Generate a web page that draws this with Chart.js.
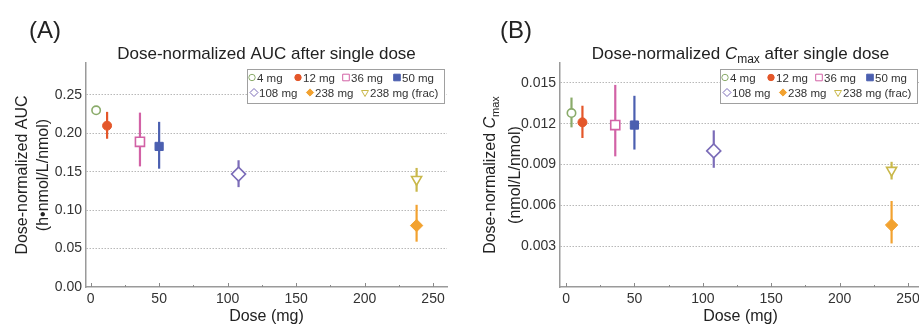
<!DOCTYPE html>
<html>
<head>
<meta charset="utf-8">
<script src="https://cdn.jsdelivr.net/npm/chart.js@4.4.1/dist/chart.umd.min.js"></script>
<style>
html,body{margin:0;padding:0;background:#fff;overflow:hidden;width:919px;height:324px;}
#wrapA{position:absolute;left:0;top:0;width:460px;height:324px;}
#wrapB{position:absolute;left:460px;top:0;width:475px;height:324px;}
canvas{display:block;}
</style>
</head>
<body>
<div id="wrapA"><canvas id="cA" width="460" height="324"></canvas></div>
<div id="wrapB"><canvas id="cB" width="475" height="324"></canvas></div>
<script>
// ---------- data ----------
const groups = ['4 mg','12 mg','36 mg','50 mg','108 mg','238 mg','238 mg (frac)'];
const doses = [4, 12, 36, 50, 108, 238, 238];

const aucMean = [0.230, 0.210, 0.189, 0.183, 0.147, 0.080, 0.140];
const aucLow  = [0.2265, 0.193, 0.157, 0.154, 0.130, 0.059, 0.124];
const aucHigh = [0.2335, 0.228, 0.227, 0.215, 0.165, 0.107, 0.155];

const cmaxMean = [0.01278, 0.0121, 0.0119, 0.0119, 0.0100, 0.00455, 0.00858];
const cmaxLow  = [0.01173, 0.01095, 0.0096, 0.0101, 0.00876, 0.0032, 0.0079];
const cmaxHigh = [0.01392, 0.01332, 0.01485, 0.01405, 0.01151, 0.00632, 0.0092];

const xTicks = [0, 50, 100, 150, 200, 250];
const xMinorTicks = [25, 75, 125, 175, 225];
const aucTicks = [0, 0.05, 0.10, 0.15, 0.20, 0.25];
const cmaxTicks = [0.003, 0.006, 0.009, 0.012, 0.015];

// ---------- styles ----------
const colors = ['#8aab6a', '#e4572a', '#d262a6', '#4b5fb0', '#7b6cb8', '#f2a230', '#c9b84a'];
const shapes = ['circle', 'circle', 'rect', 'rect', 'rectRot', 'rectRot', 'triangle'];
const filled = [false, true, false, true, false, true, false];
const radii = [4.2, 4.5, 6.4, 5.8, 7, 6.2, 5.8];
const rotations = [0, 0, 0, 0, 0, 0, 180];

const FONT = "'Liberation Sans', Arial, Helvetica, sans-serif";
Chart.defaults.font.family = FONT;
const TEXT = '#222';

function drawRuns(ctx, runs, cx, by) {
  let total = 0;
  runs.forEach(r => { ctx.font = r.f + ' ' + FONT; r.w = ctx.measureText(r.t).width; total += r.w; });
  let x = cx - total / 2;
  ctx.textAlign = 'left';
  ctx.textBaseline = 'alphabetic';
  runs.forEach(r => { ctx.font = r.f + ' ' + FONT; ctx.fillText(r.t, x, by + (r.dy || 0)); x += r.w; });
}

function legendMarker(ctx, i, x, y) {
  ctx.save();
  ctx.lineWidth = 1;
  ctx.strokeStyle = colors[i];
  ctx.fillStyle = filled[i] ? colors[i] : '#fff';
  ctx.beginPath();
  const s = shapes[i];
  if (s === 'circle') {
    ctx.arc(x, y, 3.2, 0, Math.PI * 2);
  } else if (s === 'rect') {
    ctx.rect(x - 3.3, y - 3.3, 6.6, 6.6);
  } else if (s === 'rectRot') {
    const r = filled[i] ? 3.6 : 4;
    ctx.moveTo(x, y - r); ctx.lineTo(x + r, y); ctx.lineTo(x, y + r); ctx.lineTo(x - r, y);
    ctx.closePath();
  } else {
    const r = 4;
    ctx.moveTo(x - r * 0.866, y - r * 0.5); ctx.lineTo(x + r * 0.866, y - r * 0.5); ctx.lineTo(x, y + r);
    ctx.closePath();
  }
  ctx.fill();
  ctx.stroke();
  ctx.restore();
}

function makeDeco(cfg) {
  return {
    id: 'deco',
    afterDraw(chart) {
      const ctx = chart.ctx;
      const ca = chart.chartArea;
      const xs = chart.scales.x;
      ctx.save();
      ctx.fillStyle = TEXT;
      // panel label
      ctx.font = '24px ' + FONT;
      ctx.textAlign = 'left';
      ctx.textBaseline = 'alphabetic';
      ctx.fillText(cfg.panel, cfg.panelX, 38);
      // title
      drawRuns(ctx, cfg.title, (ca.left + ca.right) / 2, 59);
      // x title
      drawRuns(ctx, [{t: 'Dose (mg)', f: '16px'}], (ca.left + ca.right) / 2, 321);
      // y title
      cfg.ytitle.forEach((line, k) => {
        ctx.save();
        ctx.translate(cfg.yBase[k], (ca.top + ca.bottom) / 2);
        ctx.rotate(-Math.PI / 2);
        drawRuns(ctx, line, 0, 0);
        ctx.restore();
      });
      // inward x ticks
      ctx.strokeStyle = '#8a8a8a';
      ctx.lineWidth = 1;
      xTicks.forEach(v => {
        const px = Math.round(xs.getPixelForValue(v)) + 0.5;
        ctx.beginPath(); ctx.moveTo(px, ca.bottom); ctx.lineTo(px, ca.bottom - 4); ctx.stroke();
      });
      xMinorTicks.forEach(v => {
        const px = Math.round(xs.getPixelForValue(v)) + 0.5;
        ctx.beginPath(); ctx.moveTo(px, ca.bottom); ctx.lineTo(px, ca.bottom - 2); ctx.stroke();
      });
      // legend
      const w = 197, h = 34, top = 69;
      const left = Math.round(ca.right - cfg.legInset - w);
      ctx.fillStyle = '#fff';
      ctx.fillRect(left, top, w, h);
      ctx.strokeStyle = '#a0a0a0';
      ctx.strokeRect(left + 0.5, top + 0.5, w, h);
      const rows = [
        {y: 77.5, idx: [0, 1, 2, 3], off: [5, 51, 99, 150]},
        {y: 92.5, idx: [4, 5, 6], off: [7, 63, 118]}
      ];
      ctx.font = '11.5px ' + FONT;
      ctx.textAlign = 'left';
      ctx.textBaseline = 'alphabetic';
      rows.forEach(row => {
        row.idx.forEach((i, k) => {
          const mx = left + row.off[k];
          legendMarker(ctx, i, mx, row.y);
          ctx.fillStyle = '#333';
          ctx.font = '11.5px ' + FONT;
          ctx.fillText(groups[i], mx + 5, row.y + 4.2);
        });
      });
      ctx.restore();
    }
  };
}

function makeChart(id, means, lows, highs, yMax, yTicks, decimals, xMin, xMax, padRight, yWidth, deco) {
  const datasets = [];
  for (let i = 0; i < groups.length; i++) {
    datasets.push({
      label: groups[i],
      data: [{x: doses[i], y: means[i]}],
      showLine: false,
      pointStyle: shapes[i],
      pointRadius: radii[i],
      pointHoverRadius: radii[i],
      pointRotation: rotations[i],
      pointBackgroundColor: filled[i] ? colors[i] : '#fff',
      pointBorderColor: colors[i],
      pointBorderWidth: filled[i] ? 1 : 1.6,
      order: 0
    });
    datasets.push({
      label: groups[i] + ' range',
      data: [{x: doses[i], y: lows[i]}, {x: doses[i], y: highs[i]}],
      borderColor: colors[i],
      borderWidth: 2.2,
      pointRadius: 0,
      pointHoverRadius: 0,
      order: 1
    });
  }
  return new Chart(document.getElementById(id), {
    type: 'line',
    data: {datasets},
    options: {
      responsive: false,
      animation: false,
      events: [],
      layout: {padding: {top: 63, right: padRight, left: 0, bottom: 0}},
      plugins: {legend: {display: false}, tooltip: {enabled: false}, title: {display: false}},
      scales: {
        x: {
          type: 'linear', min: xMin, max: xMax,
          afterBuildTicks: s => { s.ticks = xTicks.map(v => ({value: v})); },
          afterFit: s => { s.height = 37; },
          grid: {display: false, drawTicks: false},
          border: {display: true, color: '#9a9a9a', width: 1.5},
          ticks: {color: '#333', font: {size: 14}, padding: 4, maxRotation: 0}
        },
        y: {
          type: 'linear', min: 0, max: yMax,
          afterBuildTicks: s => { s.ticks = yTicks.map(v => ({value: v})); },
          afterFit: s => { s.width = yWidth; },
          grid: {
            drawTicks: false, lineWidth: 1,
            color: c => (c.tick && c.tick.value === 0) ? 'rgba(0,0,0,0)' : '#b8b8b8'
          },
          border: {display: true, color: '#9a9a9a', width: 1.5, dash: [1.5, 1.5]},
          ticks: {color: '#333', font: {size: 14}, padding: 4, callback: v => Number(v).toFixed(decimals)}
        }
      }
    },
    plugins: [makeDeco(deco)]
  });
}

makeChart('cA', aucMean, aucLow, aucHigh, 0.2916, aucTicks, 2, -3.4, 260.2, 13, 86, {
  panel: '(A)', panelX: 29,
  title: [{t: 'Dose-normalized AUC after single dose', f: '17px'}],
  ytitle: [
    [{t: 'Dose-normalized AUC', f: '16px'}],
    [{t: '(h\u2022nmol/L/nmol)', f: '16px'}]
  ],
  yBase: [26.7, 48.3],
  legInset: 3
});

makeChart('cB', cmaxMean, cmaxLow, cmaxHigh, 0.01646, cmaxTicks, 3, -4.4, 259.5, 14, 100, {
  panel: '(B)', panelX: 40,
  title: [
    {t: 'Dose-normalized ', f: '17px'},
    {t: 'C', f: 'italic 17px'},
    {t: 'max', f: '12px', dy: 4},
    {t: ' after single dose', f: '17px'}
  ],
  ytitle: [
    [{t: 'Dose-normalized ', f: '16px'}, {t: 'C', f: 'italic 16px'}, {t: 'max', f: '11px', dy: 4}],
    [{t: '(nmol/L/nmol)', f: '16px'}]
  ],
  yBase: [35, 59.6],
  legInset: 4
});
</script>
</body>
</html>
